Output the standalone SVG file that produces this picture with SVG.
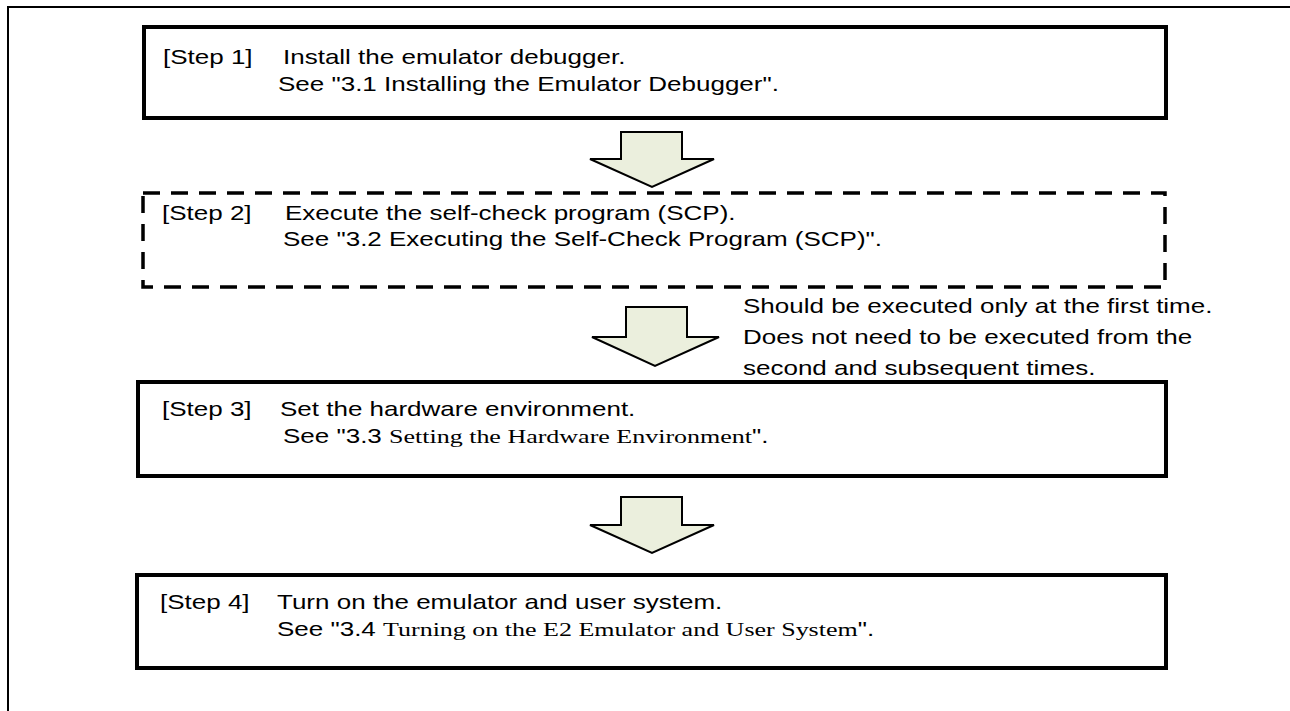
<svg xmlns="http://www.w3.org/2000/svg" width="1290" height="711" viewBox="0 0 1290 711">
<style>
.frame{fill:none;stroke:#000;stroke-width:2}
.box{fill:#fff;stroke:#000;stroke-width:4}
.dash{fill:#fff;stroke:#000;stroke-width:3.5;stroke-dasharray:17 11}
.arrow{fill:#EBEFDD;stroke:#000;stroke-width:2;stroke-linejoin:miter}
text{font-family:"Liberation Sans",Arial,sans-serif;font-size:26px;fill:#000}
.tm{font-family:"Liberation Serif","Times New Roman",serif}
</style>
<rect width="1290" height="711" fill="#fff"/>
<path class="frame" d="M8,711 V7 H1290"/>
<g id="step1">
<rect class="box" x="144" y="27" width="1022" height="91"/>
<text transform="translate(163,64) scale(1,0.76)">[Step 1]</text>
<text transform="translate(283,64) scale(1,0.76)">Install the emulator debugger.</text>
<text transform="translate(278,91) scale(1,0.76)">See "3.1 Installing the Emulator Debugger".</text>
</g>
<g id="step2">
<rect class="dash" x="143" y="193" width="1022" height="94"/>
<text transform="translate(162,220) scale(1,0.76)">[Step 2]</text>
<text transform="translate(285,220) scale(1,0.76)">Execute the self-check program (SCP).</text>
<text transform="translate(283,246) scale(1,0.76)">See "3.2 Executing the Self-Check Program (SCP)".</text>
</g>
<g id="note">
<text transform="translate(743,313) scale(1,0.76)">Should be executed only at the first time.</text>
<text transform="translate(743,344) scale(1,0.76)">Does not need to be executed from the</text>
<text transform="translate(743,375) scale(1,0.76)">second and subsequent times.</text>
</g>
<g id="step3">
<rect class="box" x="138" y="382" width="1028" height="94"/>
<text transform="translate(162,416) scale(1,0.76)">[Step 3]</text>
<text transform="translate(280,416) scale(1,0.76)">Set the hardware environment.</text>
<text transform="translate(283,443) scale(1,0.76)">See "3.3 <tspan class="tm">Setting the Hardware Environment</tspan>".</text>
</g>
<g id="step4">
<rect class="box" x="137" y="575" width="1029" height="93"/>
<text transform="translate(160,609) scale(1,0.76)">[Step 4]</text>
<text transform="translate(277,609) scale(1,0.76)">Turn on the emulator and user system.</text>
<text transform="translate(277,636) scale(1,0.76)">See "3.4 <tspan class="tm">Turning on the E2 Emulator and User System</tspan>".</text>
</g>
<g id="connectors">
<path class="arrow" d="M621,132 H682 V159 H714 L652,187 L590,159 H621 Z"/>
<path class="arrow" d="M626,307 H687 V337 H719 L655,366 L592,337 H626 Z"/>
<path class="arrow" d="M621,497 H682 V525 H714 L652,553 L590,525 H621 Z"/>
</g>
</svg>
